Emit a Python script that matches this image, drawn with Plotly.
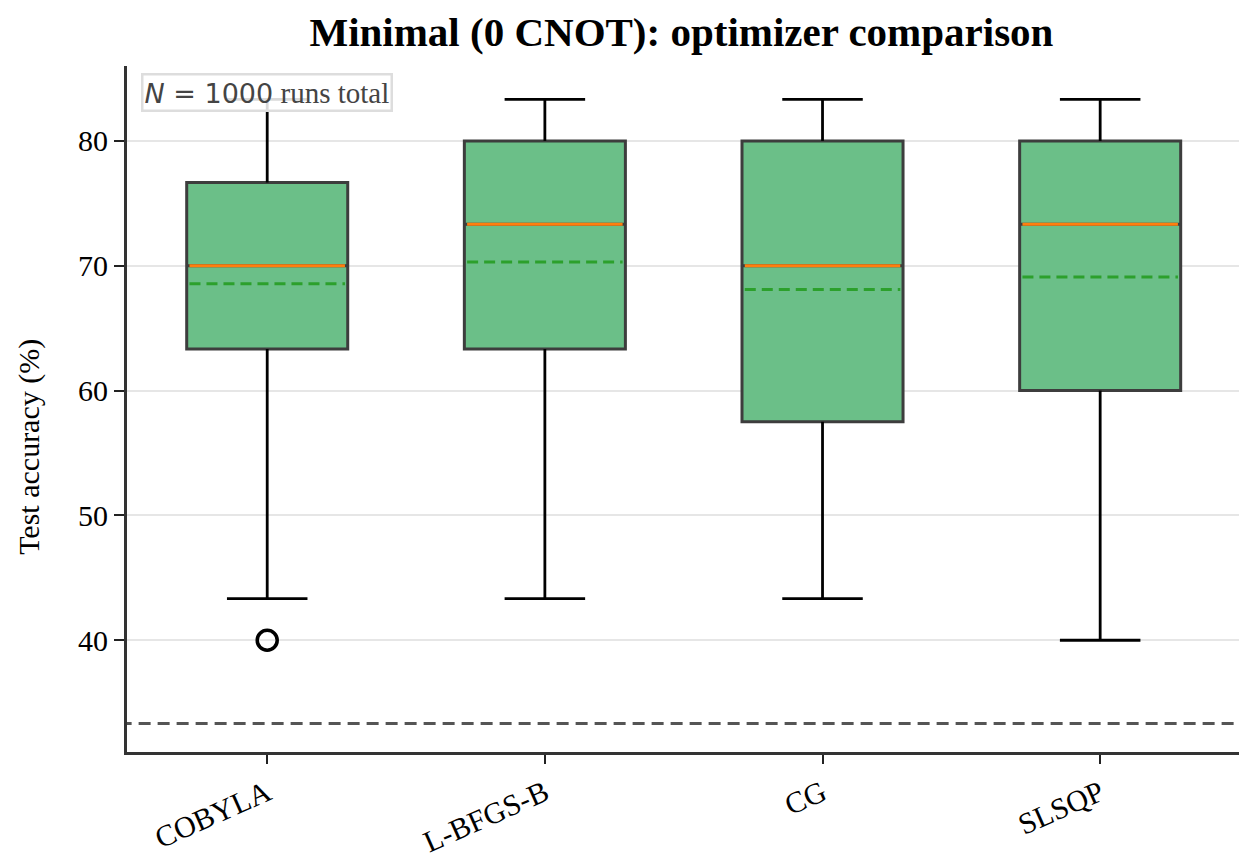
import plotly.graph_objects as go

optimizers = ["COBYLA", "L-BFGS-B", "CG", "SLSQP"]
lower_whisker = [43.33, 43.33, 43.33, 40.0]
q1 = [63.33, 63.33, 57.5, 60.0]
median = [70.0, 73.33, 70.0, 73.33]
mean = [68.55, 70.3, 68.1, 69.1]
q3 = [76.67, 80.0, 80.0, 80.0]
upper_whisker = [83.33, 83.33, 83.33, 83.33]
outlier_x = ["COBYLA"]
outlier_y = [40.0]
chance_level = 100 / 3
n_runs = 1000

pos = list(range(len(optimizers)))
BW = 0.58
CAP = BW / 2

fig = go.Figure()

# whiskers (black)
for i, name in enumerate(optimizers):
    p = pos[i]
    fig.add_trace(go.Scatter(x=[p, p, None, p, p], y=[q3[i], upper_whisker[i], None, q1[i], lower_whisker[i]],
                             mode="lines", line=dict(color="black", width=2.8), showlegend=False, hoverinfo="skip"))
    fig.add_trace(go.Scatter(x=[p - CAP / 2, p + CAP / 2, None, p - CAP / 2, p + CAP / 2],
                             y=[upper_whisker[i], upper_whisker[i], None, lower_whisker[i], lower_whisker[i]],
                             mode="lines", line=dict(color="black", width=2.8), showlegend=False, hoverinfo="skip"))

# boxes
for i, name in enumerate(optimizers):
    fig.add_trace(go.Box(x=[pos[i]], q1=[q1[i]], median=[median[i]], q3=[q3[i]],
                         lowerfence=[q1[i]], upperfence=[q3[i]], width=BW, whiskerwidth=0,
                         fillcolor="#6bbf88", line=dict(color="#3d3d3d", width=3),
                         boxpoints=False, showlegend=False, hoverinfo="skip"))

# medians and means
for i, name in enumerate(optimizers):
    p = pos[i]
    fig.add_trace(go.Scatter(x=[p - BW / 2 + 0.01, p + BW / 2 - 0.01], y=[median[i], median[i]], mode="lines",
                             line=dict(color="#ff7f0e", width=3), showlegend=False, hoverinfo="skip"))
    fig.add_trace(go.Scatter(x=[p - BW / 2 + 0.01, p + BW / 2 - 0.01], y=[mean[i], mean[i]], mode="lines",
                             line=dict(color="#2ca02c", width=3, dash="11px,6px"), showlegend=False, hoverinfo="skip"))

# outliers
fig.add_trace(go.Scatter(x=[pos[optimizers.index(n)] for n in outlier_x], y=outlier_y, mode="markers",
                         marker=dict(symbol="circle-open", size=20, color="black", line=dict(width=3.5, color="black")),
                         showlegend=False, hoverinfo="skip"))

# chance level
fig.add_trace(go.Scatter(x=[-0.6, 3.6], y=[chance_level, chance_level], mode="lines",
                         line=dict(color="#555555", width=3, dash="12px,7px"), showlegend=False, hoverinfo="skip"))

fig.update_layout(
    width=1239, height=859,
    margin=dict(l=127, r=0, t=66, b=107),
    plot_bgcolor="white", paper_bgcolor="white",
    title=dict(text="<b>Minimal (0 CNOT): optimizer comparison</b>", x=0.55, xanchor="center",
               y=0.963, yanchor="middle",
               font=dict(family="Liberation Serif", size=41, color="black")),
    font=dict(family="Liberation Serif", color="black"),
)

fig.update_xaxes(range=[-0.505, 3.5], tickmode="array", tickvals=pos, ticktext=optimizers, automargin=False,
                 tickangle=-24, tickfont=dict(family="Liberation Serif", size=30, color="black"),
                 showgrid=False, zeroline=False, showline=True, linecolor="#333333", linewidth=2.8,
                 ticks="outside", ticklen=9, tickwidth=2.4, tickcolor="#222222")
fig.update_yaxes(range=[31.05, 86.0], tickmode="array", tickvals=[40, 50, 60, 70, 80], automargin=False,
                 tickfont=dict(family="Liberation Serif", size=30, color="black"),
                 showgrid=True, gridcolor="#e6e6e6", gridwidth=1.8, zeroline=False,
                 showline=True, linecolor="#333333", linewidth=2.8,
                 ticks="outside", ticklen=10, tickwidth=2.4, tickcolor="#222222")

# y-axis label
fig.add_annotation(
    xref="paper", yref="paper", x=-0.088, y=0.445, xanchor="center", yanchor="middle",
    text="Test accuracy (%)", textangle=-90, showarrow=False,
    font=dict(family="Liberation Serif", size=30, color="black"),
)

fig.add_annotation(
    xref="paper", yref="paper", x=0.013, y=0.99, xanchor="left", yanchor="top",
    text=f"<span style='font-family:DejaVu Sans;font-size:27px'><i>N</i> = {n_runs}</span> runs total",
    showarrow=False, font=dict(family="Liberation Serif", size=29, color="#444444"),
    bgcolor="rgba(255,255,255,0.85)", bordercolor="#dddddd", borderwidth=2.5, borderpad=1,
)

fig.write_html("out.html")
